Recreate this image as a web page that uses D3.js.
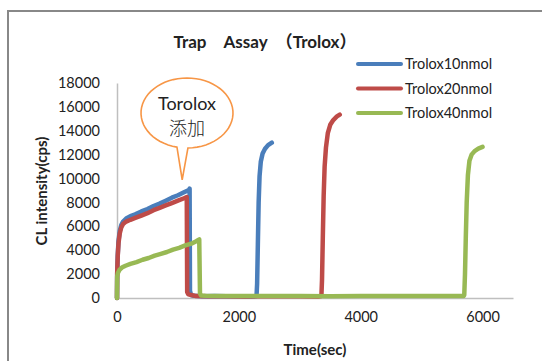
<!DOCTYPE html>
<html>
<head>
<meta charset="utf-8">
<script src="https://cdn.jsdelivr.net/npm/d3@7"></script>
<style>
  body { margin: 0; background: #fff; }
  text { font-family: Lato, "Liberation Sans", "Noto Sans CJK JP", sans-serif; fill: #222; }
</style>
</head>
<body>
<div id="chart"></div>
<script>
// Trap Assay (Trolox) - chemiluminescence traces

var seriesNames = ['Trolox10nmol', 'Trolox20nmol', 'Trolox40nmol'];
var seriesColors = ['#4a7ebb', '#be4b48', '#98b954'];

var xTicks = [0, 2000, 4000, 6000];
var yTicks = [0, 2000, 4000, 6000, 8000, 10000, 12000, 14000, 16000, 18000];

// Trolox 10 nmol
var time10 = [0, 3, 12, 25, 45, 70, 100, 150, 220, 300, 400, 500, 600, 700, 800, 900, 1000, 1100, 1180, 1192,
              1198, 1215, 1260, 1400, 1600, 1800, 2000, 2200, 2290, 2300, 2312, 2325, 2340, 2360, 2390, 2430, 2480, 2541];
var cps10  = [0, 2000, 3600, 4800, 5600, 6100, 6400, 6650, 6850, 7000, 7250, 7450, 7700, 7900, 8150, 8400, 8600, 8850, 9050, 9150,
              600, 250, 180, 150, 160, 140, 150, 130, 160, 1200, 4500, 8000, 10200, 11400, 12100, 12500, 12800, 13000];

// Trolox 20 nmol
var time20 = [0, 3, 12, 25, 45, 70, 100, 150, 220, 300, 400, 500, 600, 700, 800, 900, 1000, 1100, 1145,
              1152, 1170, 1220, 1300, 1500, 1800, 2100, 2400, 2700, 3000, 3300, 3355, 3365, 3378, 3392, 3408, 3430,
              3460, 3500, 3550, 3610, 3656];
var cps20  = [0, 2100, 3500, 4600, 5400, 5900, 6200, 6400, 6550, 6700, 6900, 7100, 7350, 7550, 7750, 7950, 8150, 8350, 8450,
              500, 300, 250, 160, 140, 150, 130, 150, 140, 150, 130, 170, 1500, 5000, 8500, 11000, 12600,
              13800, 14500, 14900, 15200, 15350];

// Trolox 40 nmol
var time40 = [0, 3, 15, 40, 80, 140, 220, 320, 420, 520, 620, 720, 820, 920, 1020, 1120, 1220, 1300, 1350,
              1362, 1380, 1450, 1700, 2000, 2500, 3000, 3500, 4000, 4500, 5000, 5500, 5690, 5700, 5712, 5725, 5740,
              5760, 5785, 5820, 5870, 5930, 6000];
var cps40  = [0, 1800, 2100, 2350, 2550, 2700, 2850, 3000, 3200, 3350, 3550, 3700, 3850, 4050, 4200, 4400, 4550, 4750, 4900,
              400, 200, 180, 170, 160, 170, 160, 150, 170, 160, 170, 160, 170, 250, 2000, 5000, 8000,
              10300, 11500, 12000, 12300, 12500, 12650];

var seriesTimes = [time10, time20, time40];
var seriesValues = [cps10, cps20, cps40];

var svgWidth = 542, svgHeight = 361;

var svg = d3.select('#chart').append('svg')
    .attr('width', svgWidth).attr('height', svgHeight);

// outer chart frame (cropped by the picture)
svg.append('rect')
    .attr('x', 8).attr('y', 11)
    .attr('width', 600).attr('height', 400)
    .attr('fill', 'none').attr('stroke', '#888').attr('stroke-width', 2);

var x = d3.scaleLinear().domain([0, 6500]).range([117, 513]);
var y = d3.scaleLinear().domain([0, 18000]).range([298, 83]);

// X axis
var xAxis = svg.append('g')
    .attr('transform', 'translate(0 ' + y(0) + ')')
    .call(d3.axisBottom(x).tickValues(xTicks).tickSize(0).tickPadding(14).tickFormat(d3.format('d')));
xAxis.select('.domain').attr('stroke', '#bfbfbf').attr('stroke-width', 1.5);
xAxis.selectAll('text').style('font-size', '14.5px').attr('fill', '#222');

// Y axis
var yAxis = svg.append('g')
    .attr('transform', 'translate(' + x(0) + ' 0)')
    .call(d3.axisLeft(y).tickValues(yTicks).tickSize(0).tickPadding(17).tickFormat(d3.format('d')));
yAxis.select('.domain').attr('stroke', '#bfbfbf').attr('stroke-width', 1.5);
yAxis.selectAll('text').style('font-size', '14.5px').attr('fill', '#222');

// lines
var line = d3.line()
    .x(function(d) { return x(d[0]); })
    .y(function(d) { return y(d[1]); });

seriesNames.forEach(function(name, i) {
    var pts = seriesTimes[i].map(function(t, j) { return [t, seriesValues[i][j]]; });
    svg.append('path')
        .datum(pts)
        .attr('fill', 'none')
        .attr('stroke', seriesColors[i])
        .attr('stroke-width', 4.5)
        .attr('stroke-linejoin', 'round')
        .attr('stroke-linecap', 'round')
        .attr('d', line);
});

// title
svg.append('text')
    .attr('x', 265).attr('y', 48)
    .attr('text-anchor', 'middle')
    .style('font-size', '17px').style('font-weight', 'bold')
    .attr('fill', '#111')
    .text('Trap\u3000Assay\u3000（Trolox）');

// axis titles
svg.append('text')
    .attr('x', 315).attr('y', 355)
    .attr('text-anchor', 'middle')
    .style('font-size', '15px').style('font-weight', 'bold')
    .attr('fill', '#111')
    .text('Time(sec)');

svg.append('text')
    .attr('transform', 'translate(47 191) rotate(-90)')
    .attr('text-anchor', 'middle')
    .style('font-size', '15px').style('font-weight', 'bold')
    .attr('fill', '#111')
    .text('CL intensity(cps)');

// legend
var legend = svg.append('g');
seriesNames.forEach(function(name, i) {
    var ly = 64 + i * 24.5;
    legend.append('line')
        .attr('x1', 358).attr('x2', 401)
        .attr('y1', ly).attr('y2', ly)
        .attr('stroke', seriesColors[i]).attr('stroke-width', 4)
        .attr('stroke-linecap', 'round');
    legend.append('text')
        .attr('x', 405).attr('y', ly + 5)
        .style('font-size', '14.5px')
        .attr('fill', '#333')
        .text(name);
});

// callout: "Torolox 添加"
var tipX = x(1070), tipY = y(9900);
var cx = 187, cy = 113, rx = 46, ry = 35;
var callout = svg.append('g');
var a1 = Math.PI / 2 + 0.22, a2 = Math.PI / 2 - 0.02;
var path = d3.path();
var steps = 60;
var start = a1, end = a2 + 2 * Math.PI;
for (var k = 0; k <= steps; k++) {
    var a = start + (end - start) * k / steps;
    var px = cx + rx * Math.cos(a), py = cy + ry * Math.sin(a);
    if (k === 0) path.moveTo(px, py); else path.lineTo(px, py);
}
path.lineTo(tipX, tipY);
path.closePath();
callout.append('path')
    .attr('d', path.toString())
    .attr('fill', '#fff')
    .attr('stroke', '#f79646')
    .attr('stroke-width', 1.6);
callout.append('text')
    .attr('x', cx).attr('y', cy - 3)
    .attr('text-anchor', 'middle')
    .style('font-size', '18px')
    .attr('fill', '#333')
    .text('Torolox');
callout.append('text')
    .attr('x', cx).attr('y', cy + 22)
    .attr('text-anchor', 'middle')
    .style('font-size', '18px')
    .style('font-weight', '300')
    .attr('fill', '#444')
    .text('添加');
</script>
</body>
</html>
